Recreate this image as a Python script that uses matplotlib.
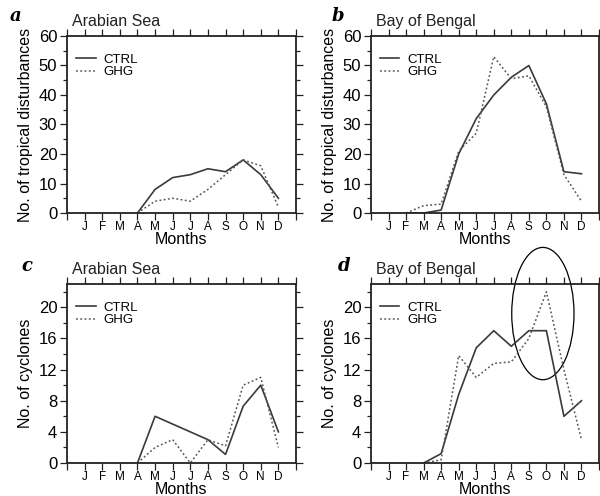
import numpy as np
import matplotlib
matplotlib.use("Agg")
import matplotlib.pyplot as plt
from matplotlib.patches import Ellipse
from matplotlib.ticker import MultipleLocator

plt.rcParams['font.family'] = ['Liberation Sans', 'DejaVu Sans']

months = ["J", "F", "M", "A", "M", "J", "J", "A", "S", "O", "N", "D"]
N = np.nan

# Tropical disturbances
as_dist_ctrl = [N, N, N, 0, 8, 12, 13, 15, 14, 18, 13, 5]
as_dist_ghg = [N, N, N, 0, 4, 5, 4, 8, 13, 18, 16, 2]
bob_dist_ctrl = [N, 0, 0, 1, 20, 32, 40, 46, 50, 37, 14, 13.3]
bob_dist_ghg = [N, 0, 2.5, 3, 21, 27, 53, 45.5, 46.5, 36, 13, 4]

# Cyclones
as_cyc_ctrl = [N, N, N, 0, 6, 5, 4, 3, 1.1, 7.3, 10, 4]
as_cyc_ghg = [N, N, N, 0, 2, 3, 0, 3, 2.2, 10, 11, 2]
bob_cyc_ctrl = [N, N, 0, 1.2, 8.8, 14.8, 17, 15, 17, 17, 6, 8]
bob_cyc_ghg = [N, N, 0, 0.4, 13.8, 11, 12.8, 13, 16, 22, 12, 3]

W, H = 600, 496
fig = plt.figure(figsize=(W / 100, H / 100), dpi=100)


def make_ax(left, right, top, bottom):
    return fig.add_axes([left / W, 1 - bottom / H, (right - left) / W, (bottom - top) / H])


panels = [
    dict(box=(67, 296, 36, 213), ctrl=as_dist_ctrl, ghg=as_dist_ghg, title="Arabian Sea",
         letter="a", lpos=(10, 16), ylim=60, major=10, minor=5, ylabel="No. of tropical disturbances"),
    dict(box=(371, 599, 36, 213), ctrl=bob_dist_ctrl, ghg=bob_dist_ghg, title="Bay of Bengal",
         letter="b", lpos=(332, 16), ylim=60, major=10, minor=5, ylabel="No. of tropical disturbances"),
    dict(box=(67, 296, 284, 463), ctrl=as_cyc_ctrl, ghg=as_cyc_ghg, title="Arabian Sea",
         letter="c", lpos=(21, 266), ylim=23, major=4, minor=2, ylabel="No. of cyclones"),
    dict(box=(371, 599, 284, 463), ctrl=bob_cyc_ctrl, ghg=bob_cyc_ghg, title="Bay of Bengal",
         letter="d", lpos=(338, 266), ylim=23, major=4, minor=2, ylabel="No. of cyclones"),
]

x = np.arange(1, 13)
axes = []
for p in panels:
    ax = make_ax(*p["box"])
    axes.append(ax)
    ax.plot(x, p["ctrl"], color="#3a3a3a", lw=1.2, ls="-", label="CTRL")
    ax.plot(x, p["ghg"], color="#555555", lw=1.1, ls=(0, (1.2, 1.6)), label="GHG")
    ax.set_xlim(0, 13)
    ax.set_ylim(0, p["ylim"])
    ax.set_xticks(x)
    ax.set_xticklabels(months, fontsize=8.5)
    ax.xaxis.set_minor_locator(MultipleLocator(1))
    ax.yaxis.set_major_locator(MultipleLocator(p["major"]))
    ax.yaxis.set_minor_locator(MultipleLocator(p["minor"]))
    ax.tick_params(axis="both", which="both", direction="out", top=True, right=True,
                   width=0.9, color="#222222")
    ax.tick_params(axis="both", which="major", length=5)
    ax.tick_params(axis="y", which="minor", length=3)
    ax.tick_params(axis="x", which="minor", length=5)
    ax.tick_params(axis="x", which="major", pad=0.8)
    ax.tick_params(axis="y", which="major", labelsize=12, pad=2)
    for s in ax.spines.values():
        s.set_linewidth(1.3)
        s.set_color("#222222")
    ax.set_xlabel("Months", fontsize=11.5, labelpad=-0.5)
    ax.set_ylabel(p["ylabel"], fontsize=11.5, labelpad=4)
    ax.text(0.02, 1.04, p["title"], transform=ax.transAxes, fontsize=11.5,
            ha="left", va="bottom", color="#222222")
    fig.text(p["lpos"][0] / W, 1 - p["lpos"][1] / H, p["letter"], fontsize=13,
             family="DejaVu Serif", style="italic", weight="bold", ha="left", va="center")
    ax.legend(loc="upper left", frameon=False, fontsize=9.5, handlelength=1.5,
              handletextpad=0.6, labelspacing=0.0, borderaxespad=0.0,
              bbox_to_anchor=(0.015, 0.93))

# circled region in panel d
ell = Ellipse((9.8, 19.2), 3.55, 17.0, fill=False, edgecolor="black", lw=0.9, clip_on=False)
axes[3].add_patch(ell)

fig.savefig("out.png", dpi=100, facecolor="white")
